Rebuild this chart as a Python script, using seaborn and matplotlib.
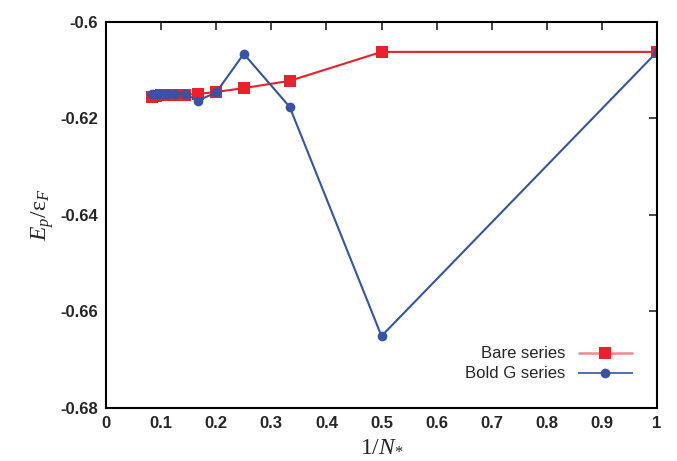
import numpy as np
import pandas as pd
import matplotlib
matplotlib.use("Agg")
import matplotlib.pyplot as plt
from matplotlib.legend_handler import HandlerErrorbar
import seaborn as sns

inv_n = [1.0, 0.5, 1/3, 0.25, 0.2, 1/6, 1/7, 0.125, 1/9, 0.1, 1/11, 1/12]
bare = [-0.6062, -0.6062, -0.6122, -0.6137, -0.6145, -0.6149, -0.6151, -0.6152, -0.6152, -0.6152, -0.6153, -0.6155]
bold = [-0.6062, -0.6651, -0.6176, -0.6066, -0.6146, -0.6163, -0.6149, -0.6149, -0.6149, -0.6149, -0.6149, -0.6149]
series_names = ["Bare series", "Bold G series"]
x_ticks = [0, 0.1, 0.2, 0.3, 0.4, 0.5, 0.6, 0.7, 0.8, 0.9, 1]
x_tick_labels = ["0", "0.1", "0.2", "0.3", "0.4", "0.5", "0.6", "0.7", "0.8", "0.9", "1"]
y_ticks = [-0.68, -0.66, -0.64, -0.62, -0.6]
y_tick_labels = ["-0.68", "-0.66", "-0.64", "-0.62", "-0.6"]

sns.set_style("white")
plt.rcParams['font.family'] = ['Liberation Sans', 'DejaVu Sans']
plt.rcParams['mathtext.fontset'] = 'custom'
plt.rcParams['mathtext.rm'] = 'Liberation Serif'
plt.rcParams['mathtext.it'] = 'Liberation Serif:italic'

red = "#e8212b"
blue = "#3653a4"

df = pd.DataFrame({
    "x": inv_n * 2,
    "y": bare + bold,
    "series": [series_names[0]] * len(inv_n) + [series_names[1]] * len(inv_n),
})

fig = plt.figure(figsize=(6.77, 4.61), dpi=100)
ax = fig.add_axes([0.1566, 0.115, 0.9705 - 0.1566, 0.9523 - 0.115])

sns.lineplot(data=df[df.series == series_names[0]], x="x", y="y", ax=ax,
             color=red, marker="s", markersize=8.5, markeredgewidth=0,
             linewidth=1.5, sort=False, legend=False)
sns.lineplot(data=df[df.series == series_names[1]], x="x", y="y", ax=ax,
             color=blue, marker="o", markersize=7, markeredgewidth=0,
             linewidth=1.5, sort=False, legend=False)

ax.set_xlim(0, 1)
ax.set_ylim(-0.68, -0.6)
ax.set_xticks(x_ticks)
ax.set_xticklabels(x_tick_labels, fontsize=12, fontweight="bold")
ax.set_yticks(y_ticks)
ax.set_yticklabels(y_tick_labels, fontsize=12, fontweight="bold")
ax.tick_params(direction="in", length=6, width=1.2, top=True, right=True, pad=6)
for s in ax.spines.values():
    s.set_linewidth(1.5)
    s.set_color("black")

ax.set_xlabel(r"$\mathit{1}/N_{*}$", fontsize=17, labelpad=2)
ax.set_ylabel(r"$E_p/\mathrm{ε}_F$", fontsize=17, labelpad=3)

# legend handles in gnuplot style (horizontal bar with caps)
h1 = ax.errorbar([2.0], [0.0], xerr=[0.1], color=red, ecolor="#f08a8f", marker="s",
                 markersize=8.5, markeredgewidth=0, linestyle="none",
                 capsize=4.5, elinewidth=1.8, capthick=1.3)
h2 = ax.errorbar([2.0], [0.0], xerr=[0.1], color=blue, ecolor=blue, marker="o",
                 markersize=7, markeredgewidth=0, linestyle="none",
                 capsize=4.5, elinewidth=1.2, capthick=1.3)
leg = ax.legend([h1, h2], series_names, loc="lower right",
                bbox_to_anchor=(0.985, 0.03), frameon=False, markerfirst=False,
                fontsize=12, handlelength=3.4, handletextpad=0.7, labelspacing=0.3,
                handler_map={type(h1): HandlerErrorbar(xerr_size=1.65)})

fig.savefig("out.png", dpi=100)
